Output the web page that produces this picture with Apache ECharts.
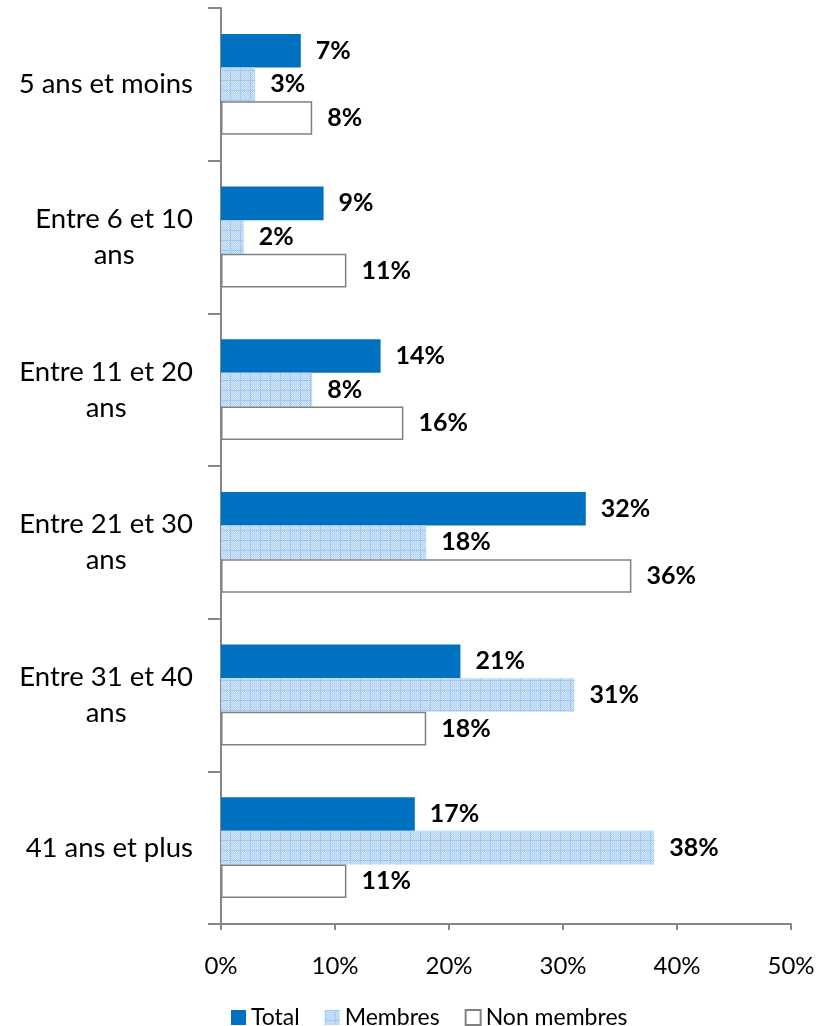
<!DOCTYPE html>
<html>
<head>
<meta charset="utf-8">
<script src="https://cdn.jsdelivr.net/npm/echarts@6/dist/echarts.min.js"></script>
<style>
  html, body { margin: 0; padding: 0; background: #ffffff; }
  #chart { width: 827px; height: 1026px; }
</style>
</head>
<body>
<div id="chart"></div>
<script>
// Ancienneté : répartition en pourcentage
const categories = [
  '5 ans et moins',
  'Entre 6 et 10\nans',
  'Entre 11 et 20\nans',
  'Entre 21 et 30\nans',
  'Entre 31 et 40\nans',
  '41 ans et plus'
];
const totalValues = [7, 9, 14, 32, 21, 17];
const membresValues = [3, 2, 8, 18, 31, 38];
const nonMembresValues = [8, 11, 16, 36, 18, 11];
const seriesNames = ['Total', 'Membres', 'Non membres'];
const xTicks = { min: 0, max: 50, step: 10 };

// Light blue dotted texture for the "Membres" bars
function makeDotPattern() {
  const c = document.createElement('canvas');
  c.width = 10; c.height = 10;
  const g = c.getContext('2d');
  g.fillStyle = '#c2dcf8';
  g.fillRect(0, 0, 10, 10);
  for (let y = 0; y < 10; y++) {
    for (let x = 0; x < 10; x++) {
      g.fillStyle = ((x + y) % 2 === 0) ? '#d4e6fb' : '#b0d0f4';
      g.fillRect(x, y, 1, 1);
    }
  }
  g.fillStyle = '#a2c8f2';
  g.fillRect(0, 0, 10, 1);
  g.fillRect(0, 0, 1, 10);
  return c;
}

const FONT = 'Lato, "Noto Sans", sans-serif';
const axisGray = '#868686';

const valueLabel = {
  show: true,
  position: 'right',
  distance: 15,
  formatter: '{c}%',
  color: '#000000',
  fontFamily: FONT,
  fontWeight: 'bold',
  fontSize: 25
};

const chart = echarts.init(document.getElementById('chart'), null, { renderer: 'canvas' });
chart.setOption({
  animation: false,
  backgroundColor: '#ffffff',
  grid: { left: 221, right: 36, top: 8, bottom: 102, containLabel: false },
  legend: {
    data: seriesNames,
    left: 226,
    top: 1001,
    itemWidth: 15,
    itemHeight: 15,
    itemGap: 25,
    icon: 'rect',
    textStyle: { fontFamily: FONT, fontSize: 23, color: '#000000' }
  },
  xAxis: {
    type: 'value',
    min: xTicks.min,
    max: xTicks.max,
    interval: xTicks.step,
    axisLine: { show: true, lineStyle: { color: axisGray, width: 2 } },
    axisTick: { show: true, length: 6, lineStyle: { color: axisGray, width: 2 } },
    splitLine: { show: false },
    axisLabel: {
      formatter: '{value}%',
      color: '#000000',
      fontFamily: FONT,
      fontSize: 24,
      margin: 30
    }
  },
  yAxis: {
    type: 'category',
    data: categories,
    inverse: true,
    axisLine: { show: true, lineStyle: { color: axisGray, width: 2 } },
    axisTick: { show: true, length: 13, lineStyle: { color: axisGray, width: 2 } },
    axisLabel: {
      margin: 28,
      align: 'right',
      formatter: function (v) {
        return v.split('\n').map(function (s) { return '{c|' + s + '}'; }).join('\n');
      },
      rich: {
        c: { align: 'center', fontFamily: FONT, fontSize: 27.5, lineHeight: 36, color: '#000000' }
      }
    }
  },
  series: [
    {
      name: seriesNames[0],
      type: 'bar',
      data: totalValues,
      barGap: '0%',
      barCategoryGap: '34%',
      itemStyle: { color: '#0070c0' },
      label: valueLabel
    },
    {
      name: seriesNames[1],
      type: 'bar',
      data: membresValues,
      barGap: '0%',
      barCategoryGap: '34%',
      itemStyle: { color: { image: makeDotPattern(), repeat: 'repeat' } },
      label: valueLabel
    },
    {
      name: seriesNames[2],
      type: 'bar',
      data: nonMembresValues,
      barGap: '0%',
      barCategoryGap: '34%',
      itemStyle: { color: '#ffffff', borderColor: '#808080', borderWidth: 1.5 },
      label: valueLabel
    }
  ]
});
</script>
</body>
</html>
